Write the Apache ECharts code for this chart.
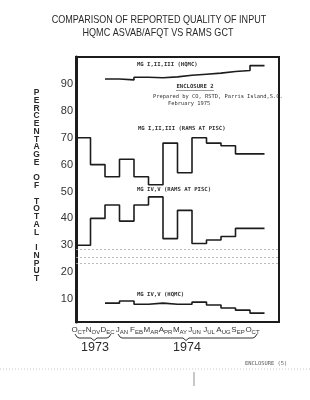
<!DOCTYPE html>
<html><head><meta charset="utf-8">
<script src="https://cdn.jsdelivr.net/npm/echarts@6/dist/echarts.min.js"></script>
<style>html,body{margin:0;padding:0;background:#fff}#c{width:310px;height:400px}</style>
</head><body><div id="c"></div>
<script>
// ---- data ----
const months = ['OCT','NOV','DEC','JAN','FEB','MAR','APR','MAY','JUN','JUL','AUG','SEP','OCT'];
const yTicks = [10,20,30,40,50,60,70,80,90];
const hqmcHigh = [null,null,91.8,91.5,92.5,92.3,92.6,93.2,93.6,94,94.6,95,96.8];
const ramsHigh = [70,60,55.5,62,55.5,52.5,68,57,70,68,67,64,64];
const ramsLow  = [30,40,45,39,45,48,32.5,43,30.7,32,33.3,36.3,36.3];
const hqmcLow  = [null,null,8.5,9.3,8.1,8.5,8.1,8.1,8.9,7.8,6.7,5.9,4.8];
const yearLabels = ['1973','1974'];
const axisName = 'PERCENTAGE OF TOTAL INPUT';

// ---- helpers ----
function stepData(vals){
  const d = vals.map((v,i)=>[i,v]);
  d.push([vals.length, vals[vals.length-1]]);
  return d;
}
const INK = '#1c1c1c';
const TXT = '#333';
const MONO = '"DejaVu Sans Mono","Liberation Mono",monospace';
const SANS = '"Liberation Sans","DejaVu Sans",sans-serif';

function lineSeries(name, vals){
  return {name, type:'line', step:'end', data:stepData(vals), symbol:'none',
    connectNulls:false, lineStyle:{color:INK,width:1.6}, silent:true};
}

const graphics = [];
function txt(text, x, y, opts){
  graphics.push(Object.assign({type:'text', x, y, silent:true,
    style:Object.assign({text, fill:TXT, align:'left', verticalAlign:'middle', font:'bold 5.6px '+MONO}, opts||{})}, {}));
}
// title
graphics.push({type:'text', x:159, y:20, scaleX:0.86, silent:true,
  style:{text:'COMPARISON OF REPORTED QUALITY OF INPUT', x:0, y:0, align:'center', verticalAlign:'middle', font:'10.5px '+SANS, fill:'#2a2a2a'}});
graphics.push({type:'text', x:158, y:33, scaleX:0.86, silent:true,
  style:{text:'HQMC ASVAB/AFQT VS RAMS GCT', x:0, y:0, align:'center', verticalAlign:'middle', font:'10.5px '+SANS, fill:'#2a2a2a'}});
// vertical axis name, stacked letters
(function(){
  let y = 93;
  for (const ch of axisName){
    if (ch === ' '){ y += 8; continue; }
    graphics.push({type:'text', x:36.5, y, silent:true,
      style:{text:ch, x:0, y:0, align:'center', verticalAlign:'middle', font:'bold 8.5px '+SANS, fill:'#2a2a2a'}});
    y += 7.7;
  }
})();
// annotations
txt('MG I,II,III (HQMC)', 137, 65);
txt('ENCLOSURE 2', 195, 87, {align:'center'});
graphics.push({type:'line', silent:true, shape:{x1:176,y1:90.5,x2:214,y2:90.5}, style:{stroke:'#555',lineWidth:0.6}});
txt('Prepared by CO, RSTD, Parris Island,S.C.', 153, 97, {font:'5.4px '+MONO});
txt('February 1975', 168, 104, {font:'5.4px '+MONO});
txt('MG I,II,III (RAMS AT PISC)', 138, 129);
txt('MG IV,V (RAMS AT PISC)', 137, 190);
txt('MG IV,V (HQMC)', 137, 295);
// year braces
function brace(x1, x2, xm, y){
  graphics.push({type:'polyline', silent:true,
    shape:{points:[[x1,y-4],[x1+2,y-1],[x1+4,y],[xm-3,y],[xm,y+2.5],[xm+3,y],[x2-4,y],[x2-2,y-1],[x2,y-4]]},
    style:{stroke:'#333',lineWidth:1,fill:null}});
}
brace(75, 111, 94, 338);
brace(118, 257, 186, 338);
graphics.push({type:'text', x:95, y:348, silent:true, style:{text:yearLabels[0], align:'center', verticalAlign:'middle', font:'12.5px '+SANS, fill:'#2a2a2a'}});
graphics.push({type:'text', x:187, y:348, silent:true, style:{text:yearLabels[1], align:'center', verticalAlign:'middle', font:'12.5px '+SANS, fill:'#2a2a2a'}});
txt('ENCLOSURE (5)', 245, 364, {font:'5.4px '+MONO, fill:'#555'});
graphics.push({type:'line', silent:true, shape:{x1:0,y1:369,x2:310,y2:369}, style:{stroke:'#bbb',lineWidth:0.8,lineDash:[1,2]}});
graphics.push({type:'line', silent:true, shape:{x1:194,y1:372,x2:194,y2:386}, style:{stroke:'#777',lineWidth:0.8}});

const chart = echarts.init(document.getElementById('c'), null, {renderer:'canvas'});
chart.setOption({
  animation:false,
  backgroundColor:'#fff',
  grid:{left:76, right:31, top:57, bottom:78, show:true, borderColor:INK, borderWidth:2, backgroundColor:'transparent'},
  xAxis:{type:'value', min:0, max:14, interval:1,
    axisLine:{show:false}, axisTick:{show:false}, splitLine:{show:false},
    axisLabel:{margin:4, padding:[0,0,0,5], color:'#333',
      formatter:v=>{const m=months[v]; return m ? '{a|'+m[0]+'}{b|'+m.slice(1)+'}' : '';},
      rich:{a:{fontSize:8, fontFamily:SANS, color:'#333', verticalAlign:'top'},
            b:{fontSize:6, fontFamily:SANS, color:'#333', verticalAlign:'bottom', padding:[3,0,0,0]}}}},
  yAxis:{type:'value', min:1.5, max:100,
    axisLine:{show:true, lineStyle:{color:INK, width:3}}, axisTick:{show:false}, splitLine:{show:false},
    axisLabel:{customValues:yTicks, margin:3, fontSize:11, fontFamily:SANS, color:'#333'}},
  series:[
    lineSeries('MG I,II,III (HQMC)', hqmcHigh),
    Object.assign(lineSeries('MG I,II,III (RAMS AT PISC)', ramsHigh), {
      markLine:{silent:true, symbol:'none', label:{show:false},
        lineStyle:{color:'#aaa', type:[2,2], width:0.8},
        data:[{yAxis:25.5},{yAxis:28.5},{yAxis:23.5}]}}),
    lineSeries('MG IV,V (RAMS AT PISC)', ramsLow),
    lineSeries('MG IV,V (HQMC)', hqmcLow)
  ],
  graphic:graphics
});
</script>
</body></html>
